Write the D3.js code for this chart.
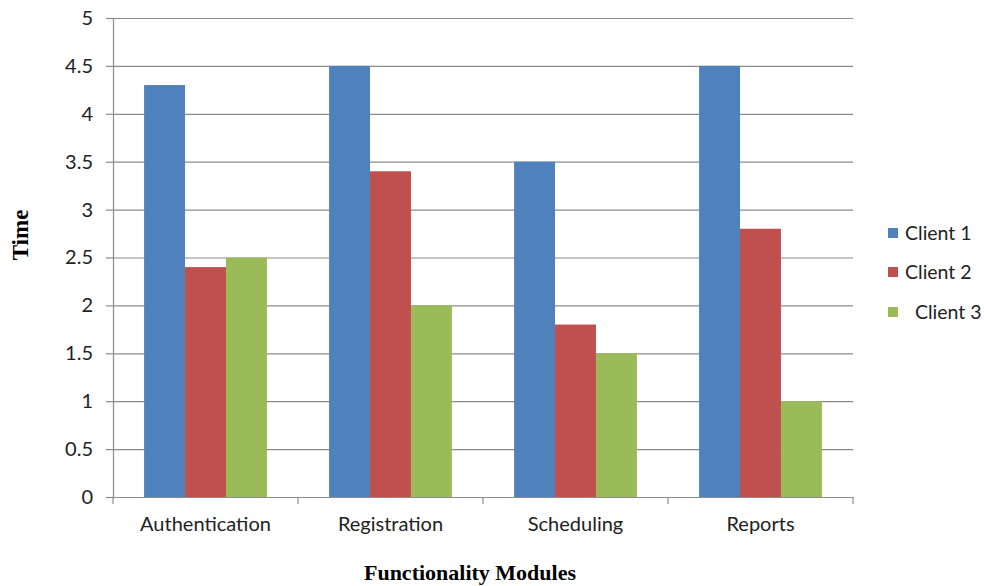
<!DOCTYPE html>
<html>
<head>
<meta charset="utf-8">
<script src="https://cdn.jsdelivr.net/npm/d3@7"></script>
<style>
  body { margin: 0; background: #fff; }
  svg { display: block; }
</style>
</head>
<body>
<svg id="chart" width="984" height="586"></svg>
<script>
const modules = ["Authentication", "Registration", "Scheduling", "Reports"];
const clients = ["Client 1", "Client 2", "Client 3"];
const client1 = [4.3, 4.5, 3.5, 4.5];
const client2 = [2.4, 3.4, 1.8, 2.8];
const client3 = [2.5, 2.0, 1.5, 1.0];
const yTicks = [0, 0.5, 1, 1.5, 2, 2.5, 3, 3.5, 4, 4.5, 5];
const colors = ["#4F81BD", "#C0504D", "#9BBB59"];

const series = [client1, client2, client3];

const svg = d3.select("#chart"),
  margin = { top: 18, right: 131, bottom: 89, left: 113 },
  width = 984 - margin.left - margin.right,
  height = 586 - margin.top - margin.bottom,
  g = svg.append("g")
    .attr("transform", "translate(" + margin.left + "," + margin.top + ")");

const font = "Lato, 'Open Sans', sans-serif";

const x = d3.scaleBand().domain(modules).range([0, width]).paddingInner(0).paddingOuter(0);
const xInner = d3.scaleBand().domain(clients).range([x.bandwidth() * 0.168, x.bandwidth() * 0.832]);
const y = d3.scaleLinear().domain([0, 5]).range([height, 0]);

// gridlines
g.append("g")
  .attr("class", "grid")
  .call(d3.axisLeft(y).tickValues(yTicks).tickSize(-width).tickFormat(""))
  .call(s => s.select(".domain").remove())
  .call(s => s.selectAll("line").attr("stroke", "#8c8c8c").attr("stroke-width", 1.2));

// bars
modules.forEach((m, i) => {
  const grp = g.append("g").attr("transform", "translate(" + x(m) + ",0)");
  clients.forEach((c, j) => {
    grp.append("rect")
      .attr("x", xInner(c))
      .attr("y", y(series[j][i]))
      .attr("width", xInner.bandwidth())
      .attr("height", height - y(series[j][i]))
      .attr("fill", colors[j]);
  });
});

// y axis
const yAxis = g.append("g")
  .call(d3.axisLeft(y).tickValues(yTicks).tickSize(7).tickPadding(13).tickFormat(d3.format("")));
yAxis.select(".domain").attr("stroke", "#8c8c8c").attr("stroke-width", 1.2);
yAxis.selectAll("line").attr("stroke", "#8c8c8c").attr("stroke-width", 1.2);
yAxis.selectAll("text").attr("fill", "#222").style("font-family", font).style("font-size", "20px");

// x axis
const xTickVals = [0, 1, 2, 3, 4];
const xAxis = g.append("g")
  .attr("transform", "translate(0," + height + ")")
  .call(d3.axisBottom(x).tickSize(0).tickPadding(20));
xAxis.select(".domain").attr("stroke", "#8c8c8c").attr("stroke-width", 1.2);
xAxis.selectAll("text").attr("fill", "#222").style("font-family", font).style("font-size", "20px");
xAxis.selectAll(".sep")
  .data(xTickVals)
  .enter().append("line")
  .attr("class", "sep")
  .attr("x1", d => d * x.bandwidth())
  .attr("x2", d => d * x.bandwidth())
  .attr("y1", 0).attr("y2", 7)
  .attr("stroke", "#8c8c8c").attr("stroke-width", 1.2);

// axis titles
svg.append("text")
  .attr("x", 470).attr("y", 580)
  .attr("text-anchor", "middle")
  .style("font-family", "'Liberation Serif', 'DejaVu Serif', serif")
  .style("font-weight", "bold").style("font-size", "22px")
  .text("Functionality Modules");

svg.append("text")
  .attr("transform", "translate(28,235) rotate(-90)")
  .attr("text-anchor", "middle")
  .style("font-family", "'Liberation Serif', 'DejaVu Serif', serif")
  .style("font-weight", "bold").style("font-size", "23px")
  .text("Time");

// legend
const legend = svg.append("g").attr("class", "legend");
const legendY = [233, 272, 312];
const legendLabels = ["Client 1", "Client 2", "\u00a0\u00a0Client 3"];
clients.forEach((c, j) => {
  legend.append("rect")
    .attr("x", 888).attr("y", legendY[j] - 5)
    .attr("width", 10).attr("height", 10)
    .attr("fill", colors[j]);
  legend.append("text")
    .attr("x", 905).attr("y", legendY[j])
    .attr("dy", "0.35em")
    .attr("fill", "#222")
    .style("font-family", font).style("font-size", "19.5px")
    .text(legendLabels[j]);
});
</script>
</body>
</html>
